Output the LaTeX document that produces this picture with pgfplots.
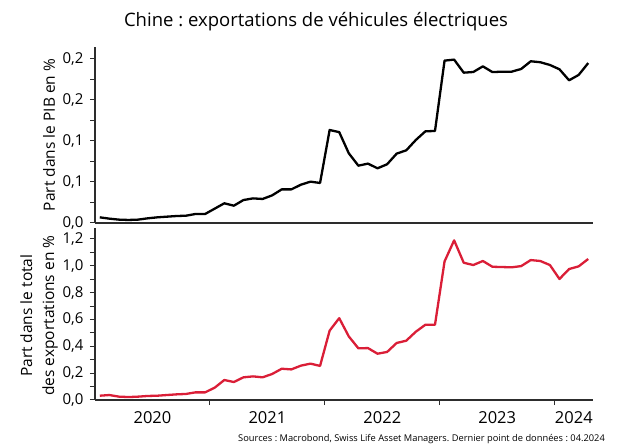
\documentclass[border=0pt]{standalone}
\usepackage{fontspec}
\setmainfont{Open Sans}
\usepackage{pgfplots}
\pgfplotsset{compat=1.18}
\usepackage{pgfplotstable}
\frenchspacing
\definecolor{swred}{RGB}{218,30,55}
\definecolor{axgray}{RGB}{45,45,45}

\pgfplotstableread{
m gdp exp
0 0.0069 0.032
1 0.0053 0.037
2 0.0041 0.025
3 0.0037 0.022
4 0.0041 0.025
5 0.0057 0.030
6 0.0069 0.032
7 0.0077 0.037
8 0.0085 0.042
9 0.0089 0.045
10 0.0110 0.057
11 0.0110 0.057
12 0.0175 0.092
13 0.0240 0.149
14 0.0211 0.134
15 0.0280 0.169
16 0.0300 0.176
17 0.0293 0.169
18 0.0337 0.194
19 0.0410 0.233
20 0.0410 0.228
21 0.0467 0.256
22 0.0504 0.271
23 0.0488 0.254
24 0.1134 0.517
25 0.1108 0.610
26 0.0850 0.474
27 0.0699 0.385
28 0.0724 0.387
29 0.0667 0.345
30 0.0716 0.358
31 0.0846 0.425
32 0.0886 0.442
33 0.1012 0.509
34 0.1118 0.561
35 0.1122 0.561
36 0.1980 1.033
37 0.1992 1.190
38 0.1833 1.023
39 0.1841 1.006
40 0.1910 1.036
41 0.1840 0.993
42 0.1845 0.991
43 0.1845 0.989
44 0.1878 0.998
45 0.1972 1.043
46 0.1960 1.036
47 0.1927 1.006
48 0.1874 0.902
49 0.1740 0.976
50 0.1805 0.996
51 0.1950 1.051
}\datatable

\pgfplotsset{
  common/.style={
    scale only axis, width=498pt,
    xmin=-0.5, xmax=51.5,
    axis x line*=bottom, axis y line*=left,
    axis line style={axgray, line width=1.3pt},
    tick style={axgray, line width=1pt},
    tick align=outside,
    major tick length=5pt, minor tick length=5pt,
    /pgf/number format/assume math mode=true,
    ticklabel style={font=\fontsize{15}{17}\selectfont},
    yticklabel style={xshift=-3pt},
    ylabel style={font=\fontsize{15.5}{22}\selectfont, anchor=center},
  }
}

\begin{document}
\begin{tikzpicture}
\useasboundingbox (-95pt,-46pt) rectangle (522pt,400pt);

\begin{axis}[common,
  at={(0pt,177pt)}, anchor=south west,
  height=176pt,
  ymin=0, ymax=0.2146,
  xtick=\empty,
  ytick={0,0.05,0.1,0.15,0.2},
  yticklabels={{0,0},{0,1},{0,1},{0,2},{0,2}},
  minor ytick={0.025,0.075,0.125,0.175},
  ylabel={Part dans le PIB en \%},
  ylabel style={at={(axis description cs:-0.0924,0.5)}},
]
\addplot[black, line width=2.3pt, line join=round] table[x=m, y=gdp] {\datatable};
\end{axis}

\begin{axis}[common,
  at={(0pt,0pt)}, anchor=south west,
  height=172pt,
  ymin=0, ymax=1.282,
  xtick={11.5,23.5,35.5,47.5},
  xticklabels={},
  extra x ticks={5.5,17.5,29.5,41.5,49.5},
  extra x tick labels={2020,2021,2022,2023,2024},
  extra x tick style={major tick length=0pt, xticklabel style={yshift=-8pt, font=\fontsize{16.5}{18}\selectfont}},
  ytick={0,0.2,0.4,0.6,0.8,1.0,1.2},
  yticklabels={{0,0},{0,2},{0,4},{0,6},{0,8},{1,0},{1,2}},
  minor ytick={0.1,0.3,0.5,0.7,0.9,1.1},
  ylabel={Part dans le total\\des exportations en \%},
  ylabel style={align=center, at={(axis description cs:-0.1124,0.49)}},
]
\addplot[swred, line width=2.3pt, line join=round] table[x=m, y=exp] {\datatable};
\end{axis}

\node at (221pt,378pt) {\fontsize{18.5}{20}\selectfont Chine : exportations de véhicules électriques};
\node[anchor=base east, inner sep=0pt] at (510pt,-41pt) {\fontsize{9.3}{10}\selectfont Sources : Macrobond, Swiss Life Asset Managers. Dernier point de données : 04.2024};
\end{tikzpicture}
\end{document}
